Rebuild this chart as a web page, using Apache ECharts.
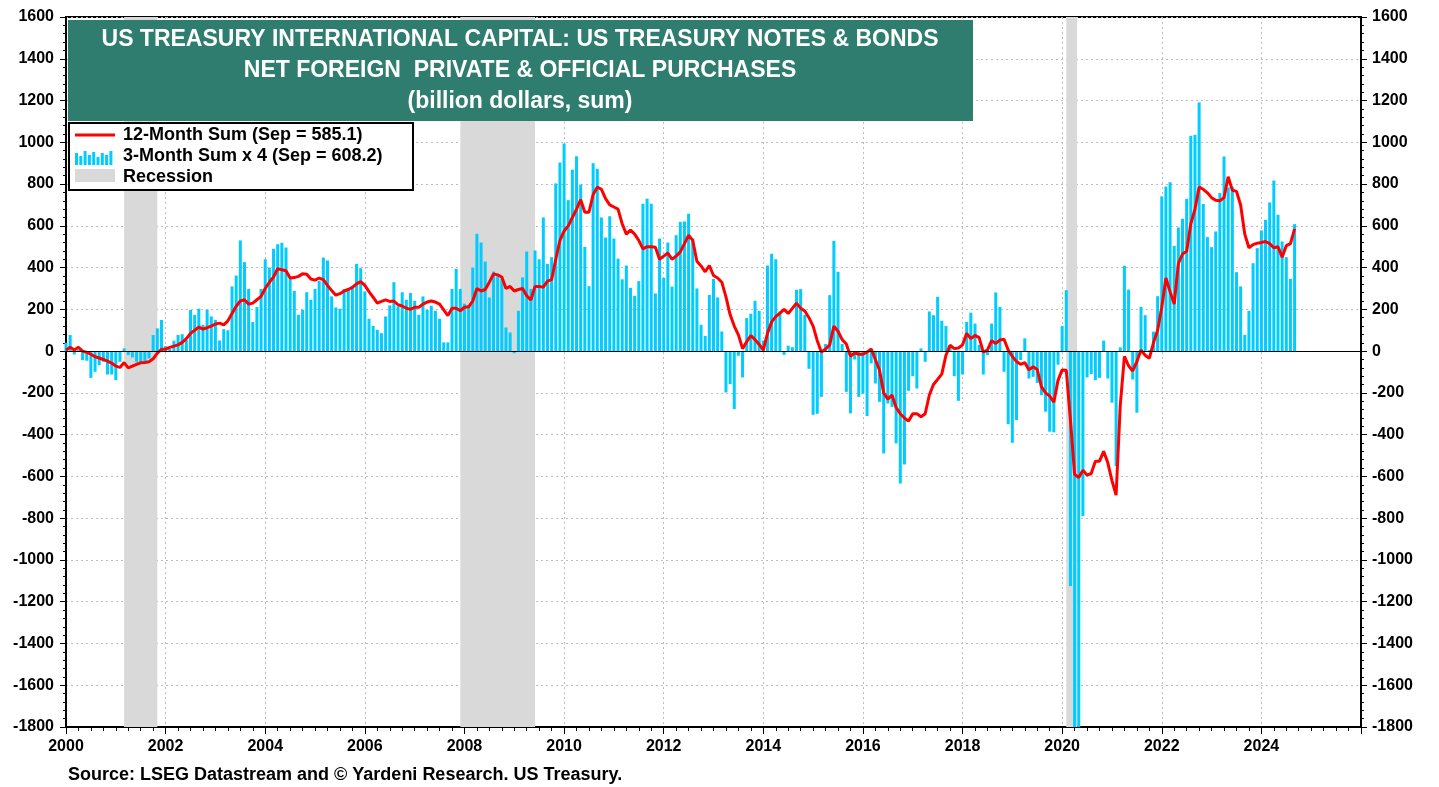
<!DOCTYPE html>
<html><head><meta charset="utf-8">
<script src="https://cdn.jsdelivr.net/npm/echarts@6/dist/echarts.min.js"></script>
<style>html,body{margin:0;padding:0;background:#fff}#c{width:1439px;height:787px}</style>
</head><body><div id="c"></div>
<script>
// Monthly data, Jan 2000 .. Sep 2024
const startYear = 2000;
const barValues = [
 40,77,-16,5,-43,-46,-128,-99,-67,-51,-112,-112,
 -139,-51,13,-19,-30,-51,-59,-51,-35,77,109,149,
 24,10,50,77,81,53,197,174,203,126,198,166,
 150,51,105,100,310,362,530,426,298,139,211,298,
 440,400,490,512,519,496,346,289,174,198,282,246,
 298,337,448,434,262,209,203,298,301,310,418,397,
 286,155,121,102,86,166,219,330,214,282,246,278,
 241,174,262,198,217,193,155,42,42,298,394,298,
 227,219,400,562,520,429,257,381,358,346,113,89,
 -10,193,353,477,298,482,440,640,418,450,803,903,
 994,723,869,933,798,499,311,900,873,640,544,646,
 539,443,344,410,303,265,335,706,730,706,276,539,
 351,520,309,555,619,621,658,540,300,126,73,269,
 346,257,94,-198,-158,-278,-22,-126,158,179,241,193,
 51,410,466,440,190,-18,26,19,294,297,174,-85,
 -305,-300,-219,34,268,528,380,34,-195,-298,-40,-219,
 -203,-311,-59,-155,-243,-490,-251,-267,-442,-634,-543,-190,
 -120,-179,13,-51,190,172,260,145,120,30,-120,-238,
 -112,140,184,132,30,-112,-19,132,281,212,-99,-350,
 -439,-330,-43,61,-131,-123,-152,-211,-290,-386,-389,-65,
 120,292,-1125,-1800,-1800,-790,-126,-110,-139,-128,50,-131,
 -247,-550,18,409,295,-136,-295,212,172,5,93,263,
 741,788,809,504,592,634,729,1031,1036,1191,705,546,
 498,573,757,932,784,788,378,310,78,193,421,493,
 578,629,712,817,653,525,450,346,608.2
];
const lineValues = [
 5,18,5,18,0,-6,-15,-27,-33,-40,-48,-57,
 -72,-78,-55,-80,-72,-63,-56,-54,-51,-37,-10,8,
 10,18,24,30,42,60,85,100,115,105,112,120,
 130,134,126,145,180,215,240,246,225,230,246,262,
 300,330,355,395,390,385,350,352,358,370,368,345,
 340,350,342,315,290,268,275,288,295,305,322,333,
 315,285,258,230,238,245,238,240,222,216,205,200,
 210,210,225,235,240,235,225,198,170,205,205,193,
 210,212,240,300,288,295,330,370,365,355,300,310,
 288,295,300,265,245,310,310,306,335,342,440,530,
 575,600,640,680,725,665,665,750,785,775,730,700,
 690,680,610,560,580,560,530,490,500,500,497,440,
 455,470,440,455,475,515,555,530,430,408,380,410,
 362,350,330,260,175,120,78,12,45,75,55,32,
 5,85,140,165,182,200,180,205,230,205,192,160,
 120,50,-5,10,30,120,95,55,34,-25,-8,-15,
 -15,-5,10,-40,-91,-200,-230,-210,-270,-300,-320,-335,
 -300,-300,-314,-300,-210,-160,-135,-110,-20,28,12,15,
 30,85,60,75,65,-5,5,50,37,53,57,5,
 -25,-50,-63,-55,-90,-75,-88,-170,-200,-215,-245,-140,
 -90,-92,-330,-590,-605,-570,-594,-586,-527,-527,-480,-535,
 -620,-690,-260,-25,-70,-95,-50,5,-20,-35,40,100,
 210,350,285,225,420,465,478,610,680,785,775,758,
 735,722,720,735,835,770,765,700,560,495,510,517,
 520,525,515,495,500,450,505,515,585.1
];
const recessions = [[2001.167, 2001.833], [2007.917, 2009.417], [2020.083, 2020.30]];
const titleLines = ['US TREASURY INTERNATIONAL CAPITAL: US TREASURY NOTES & BONDS',
                    'NET FOREIGN  PRIVATE & OFFICIAL PURCHASES',
                    '(billion dollars, sum)'];
const legendLabels = ['12-Month Sum (Sep = 585.1)', '3-Month Sum x 4 (Sep = 608.2)', 'Recession'];
const sourceText = 'Source: LSEG Datastream and \u00A9 Yardeni Research. US Treasury.';
const yTicks = {min: -1800, max: 1600, interval: 200};
const xTicks = {min: 2000, max: 2026, interval: 2};

const FONT = '"Liberation Sans", Arial, sans-serif';
const toXY = (arr) => arr.map((v, i) => [startYear + i / 12, v]);

const chart = echarts.init(document.getElementById('c'), null, {renderer: 'canvas'});
const yAxisCommon = {
  type: 'value', min: yTicks.min, max: yTicks.max, interval: yTicks.interval,
  axisLine: {show: true, lineStyle: {color: '#000', width: 2}},
  axisTick: {show: true, length: 6, lineStyle: {color: '#000', width: 1}},
  minorTick: {show: true, splitNumber: 5, length: 3, lineStyle: {color: '#000'}},
  axisLabel: {color: '#000', fontFamily: FONT, fontWeight: 'bold', fontSize: 16, margin: 12,
    formatter: v => String(v)},
};
const iconBars = [];
const hs = [12, 9, 14, 10, 13, 8, 12, 10, 14];
hs.forEach((h, k) => iconBars.push({type: 'rect', z: 12, shape: {x: 75 + k * 4.3, y: 165 - h, width: 3, height: h}, style: {fill: '#00CCFF'}}));

chart.setOption({
  animation: false,
  backgroundColor: '#fff',
  grid: {left: 66, right: 78, top: 17, bottom: 60, show: true, borderColor: '#000', borderWidth: 2, backgroundColor: 'transparent'},
  xAxis: {
    type: 'value', min: xTicks.min, max: xTicks.max, interval: xTicks.interval,
    axisLine: {show: true, onZero: false, lineStyle: {color: '#000', width: 2}},
    axisTick: {show: true, length: 7, lineStyle: {color: '#000'}},
    minorTick: {show: true, splitNumber: 8, length: 4, lineStyle: {color: '#000'}},
    axisLabel: {color: '#000', fontFamily: FONT, fontWeight: 'bold', fontSize: 16, margin: 12,
      formatter: v => (v >= xTicks.max ? '' : String(v))},
    splitLine: {show: true, lineStyle: {color: '#BDBDBD', type: [2, 3], width: 1}}
  },
  yAxis: [
    Object.assign({}, yAxisCommon, {position: 'left',
      splitLine: {show: true, lineStyle: {color: '#BDBDBD', type: [2, 3], width: 1}}}),
    Object.assign({}, yAxisCommon, {position: 'right', splitLine: {show: false},
      axisLabel: Object.assign({}, yAxisCommon.axisLabel, {margin: 11})})
  ],
  series: [
    {type: 'line', data: [], z: 1, silent: true,
      markArea: {silent: true, itemStyle: {color: '#D9D9D9'},
        data: recessions.map(r => [{xAxis: r[0]}, {xAxis: r[1]}])}},
    {name: legendLabels[1], type: 'bar', data: toXY(barValues), barWidth: 3, z: 2,
      itemStyle: {color: '#00CCFF'}, clip: true,
      markLine: {silent: true, symbol: 'none', label: {show: false},
        lineStyle: {color: '#000', width: 1, type: 'solid'}, data: [{yAxis: 0}]}},
    {name: legendLabels[0], type: 'line', data: toXY(lineValues), z: 3, symbol: 'none',
      lineStyle: {color: '#FF0000', width: 3}, itemStyle: {color: '#FF0000'}}
  ],
  graphic: [
    {type: 'rect', shape: {x: 68, y: 20, width: 905, height: 101}, style: {fill: '#2F7D6F'}, z: 10},
    {type: 'text', x: 520, y: 40, z: 11, style: {text: titleLines[0], fill: '#fff', font: 'bold 23px ' + FONT, textAlign: 'center', textVerticalAlign: 'middle'}},
    {type: 'text', x: 520, y: 71, z: 11, style: {text: titleLines[1], fill: '#fff', font: 'bold 23px ' + FONT, textAlign: 'center', textVerticalAlign: 'middle'}},
    {type: 'text', x: 520, y: 102, z: 11, style: {text: titleLines[2], fill: '#fff', font: 'bold 23px ' + FONT, textAlign: 'center', textVerticalAlign: 'middle'}},
    {type: 'rect', shape: {x: 69, y: 123, width: 344, height: 67}, style: {fill: '#fff', stroke: '#000', lineWidth: 2}, z: 10},
    {type: 'line', shape: {x1: 75, y1: 135, x2: 115, y2: 135}, style: {stroke: '#FF0000', lineWidth: 3}, z: 12},
    {type: 'group', z: 12, children: iconBars},
    {type: 'rect', shape: {x: 75, y: 169, width: 40, height: 13}, style: {fill: '#D9D9D9'}, z: 12},
    {type: 'text', x: 123, y: 135, z: 12, style: {text: legendLabels[0], fill: '#000', font: 'bold 18px ' + FONT, textVerticalAlign: 'middle'}},
    {type: 'text', x: 123, y: 156, z: 12, style: {text: legendLabels[1], fill: '#000', font: 'bold 18px ' + FONT, textVerticalAlign: 'middle'}},
    {type: 'text', x: 123, y: 177, z: 12, style: {text: legendLabels[2], fill: '#000', font: 'bold 18px ' + FONT, textVerticalAlign: 'middle'}},
    {type: 'text', x: 68, y: 775, z: 12, style: {text: sourceText, fill: '#000', font: 'bold 18px ' + FONT, textVerticalAlign: 'middle'}}
  ]
});
</script></body></html>
